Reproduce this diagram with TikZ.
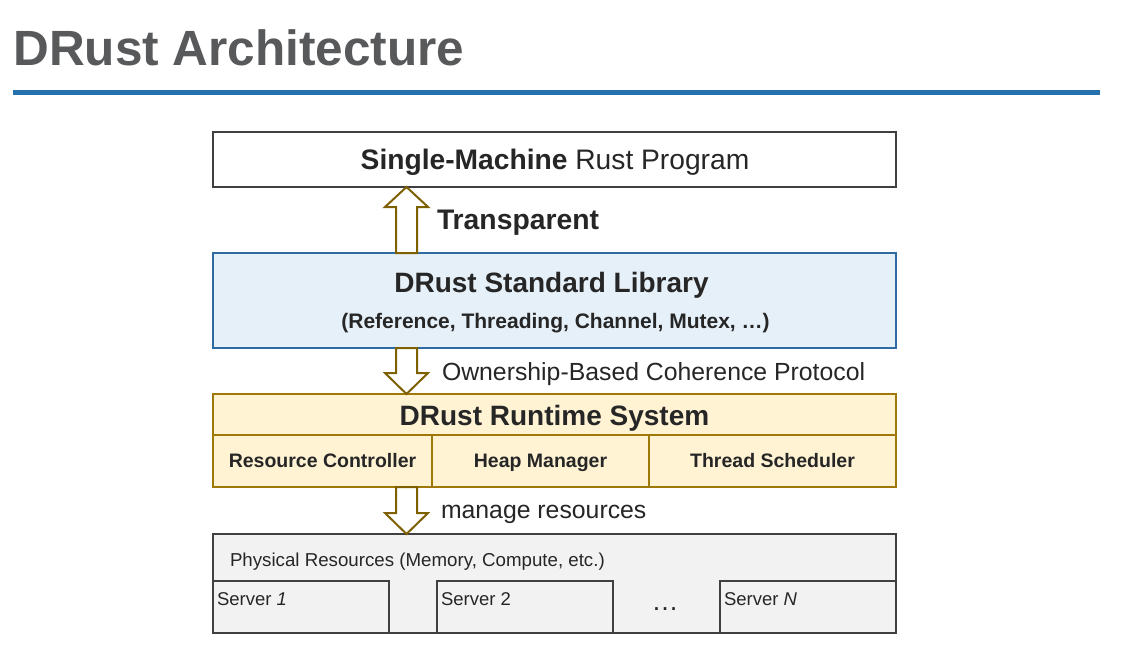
\documentclass[tikz,border=0pt]{standalone}
\usepackage{fontspec}
\setmainfont{Liberation Sans}
\usetikzlibrary{calc}
\definecolor{txt}{RGB}{38,38,38}
\definecolor{titlegray}{RGB}{88,89,91}
\definecolor{rule}{RGB}{36,113,173}
\definecolor{arrowc}{RGB}{127,96,0}
\definecolor{rtborder}{RGB}{158,120,8}
\definecolor{rtfill}{RGB}{255,243,212}
\definecolor{libfill}{RGB}{230,240,248}
\definecolor{libborder}{RGB}{46,106,164}
\definecolor{physfill}{RGB}{242,242,242}
\definecolor{darkborder}{RGB}{64,64,64}
\newcommand\fs[1]{\fontsize{#1}{#1}\selectfont}
\newcommand\uparr[2]{%
  \draw[barrow] (#1) -- ($(#1)+(21.5,20)$) -- ($(#1)+(10.5,20)$) -- ($(#2)+(10.5,0)$)
    -- ($(#2)+(-10.5,0)$) -- ($(#1)+(-10.5,20)$) -- ($(#1)+(-21.5,20)$) -- cycle;}
\newcommand\dnarr[2]{%
  \draw[barrow] (#2) -- ($(#2)+(21.5,-21)$) -- ($(#2)+(10.5,-21)$) -- ($(#1)+(10.5,0)$)
    -- ($(#1)+(-10.5,0)$) -- ($(#2)+(-10.5,-21)$) -- ($(#2)+(-21.5,-21)$) -- cycle;}
\begin{document}
\begin{tikzpicture}[x=1pt,y=-1pt,
  every node/.style={inner sep=0pt, outer sep=0pt, text=txt},
  box/.style={draw, line width=2pt, rectangle, anchor=north west},
  progbox/.style={box, draw=darkborder, fill=white},
  libbox/.style={box, draw=libborder, fill=libfill},
  rtbox/.style={box, draw=rtborder, fill=rtfill},
  physbox/.style={box, draw=darkborder, fill=physfill},
  barrow/.style={draw=arrowc, fill=white, line width=2pt, line join=miter},
  lbl/.style={anchor=base},
  lblw/.style={anchor=base west},
]
\useasboundingbox (0,0) rectangle (1127,661);
\fill[white] (0,0) rectangle (1127,661);

% title
\node[anchor=base west, text=titlegray] (title) at (13.5,66) {\fs{49.5}\bfseries DRust Architecture};
\fill[rule] (13,89.5) rectangle (1100,94.5);

% boxes
\node[progbox, minimum width=683, minimum height=55] (prog) at (213,132) {};
\node[lbl] (progt) at (555,169) {\fs{28.2}\textbf{Single-Machine} Rust Program};

\node[libbox, minimum width=683, minimum height=95] (lib) at (213,253) {};
\node[lbl] (libt) at (551.5,292) {\fs{28}\bfseries DRust Standard Library};
\node[lbl] (libs) at (555.5,328) {\fs{21}\bfseries (Reference, Threading, Channel, Mutex, …)};

\node[rtbox, minimum width=683, minimum height=41] (rt) at (213,394) {};
\node[lbl] (rtt) at (554.5,425) {\fs{28}\bfseries DRust Runtime System};
\node[rtbox, minimum width=219, minimum height=52] (rc) at (213,435) {};
\node[rtbox, minimum width=217, minimum height=52] (hm) at (432,435) {};
\node[rtbox, minimum width=247, minimum height=52] (ts) at (649,435) {};
\node[lbl] (rct) at (rc.center |- 0,467) {\fs{19.5}\bfseries Resource Controller};
\node[lbl] (hmt) at (hm.center |- 0,467) {\fs{19.5}\bfseries Heap Manager};
\node[lbl] (tst) at (ts.center |- 0,467) {\fs{19.5}\bfseries Thread Scheduler};

\node[physbox, minimum width=683, minimum height=99] (phys) at (213,534) {};
\node[lblw] (physt) at (230,566) {\fs{18.7}Physical Resources (Memory, Compute, etc.)};
\node[physbox, minimum width=176, minimum height=52] (s1) at (213,581) {};
\node[physbox, minimum width=176, minimum height=52] (s2) at (437,581) {};
\node[physbox, minimum width=176, minimum height=52] (sN) at (720,581) {};
\node[lblw] (s1t) at (217,605) {\fs{18.5}Server \textit{1}};
\node[lblw] (s2t) at (441,605) {\fs{18.5}Server 2};
\node[lblw] (sNt) at (724,605) {\fs{18.5}Server \textit{N}};
\node[lbl] (dots) at (665,610) {\fs{27}…};

% arrows
\coordinate (ax) at (406.5,0);
\coordinate (a1tip) at (ax |- prog.south);
\coordinate (a1base) at (ax |- lib.north);
\coordinate (a2top) at (ax |- lib.south);
\coordinate (a2tip) at (ax |- rt.north);
\coordinate (a3top) at (ax |- rc.south);
\coordinate (a3tip) at (ax |- phys.north);
\uparr{a1tip}{a1base}
\dnarr{a2top}{a2tip}
\dnarr{a3top}{a3tip}

\node[lblw] (transp) at (437,229) {\fs{28.3}\bfseries Transparent};
\node[lblw] (own) at (442,380) {\fs{24.8}Ownership-Based Coherence Protocol};
\node[lblw] (man) at (441,518) {\fs{24.8}manage resources};
\end{tikzpicture}
\end{document}
